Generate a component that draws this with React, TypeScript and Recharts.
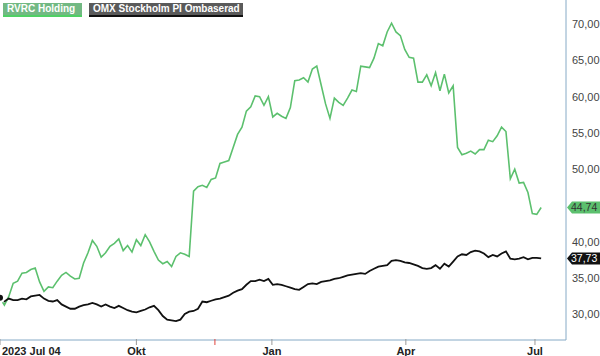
import React from "react";
import { LineChart, Line, XAxis, YAxis, ReferenceLine } from "recharts";

// sampled every 2 trading days from 2023-07-04
const rvrc = [
  32.3, 31.3, 32.5, 34.3, 34.6, 35.7, 35.8, 36.2, 36.4, 34.5,
  33.2, 33.8, 33.7, 34.6, 35.4, 35.8, 35.3, 34.9, 35.0, 37.1,
  38.5, 40.2, 39.4, 37.9, 38.5, 39.4, 39.8, 40.4, 38.8, 39.5,
  38.6, 40.3, 39.5, 41.0, 40.0, 38.7, 37.5, 37.0, 37.3, 36.6,
  38.0, 38.5, 38.3, 38.0, 47.0, 47.6, 47.8, 47.5, 48.6, 48.8,
  50.8, 51.0, 51.2, 53.0, 54.8, 55.8, 58.0, 58.6, 60.1, 60.0,
  58.8, 60.0, 57.2, 57.7, 57.3, 57.0, 58.5, 62.2, 62.3, 62.6,
  62.0, 63.8, 64.2, 61.6, 59.0, 57.0, 59.8, 59.2, 58.8, 59.8,
  60.9, 60.7, 64.2, 64.1, 64.0, 65.3, 67.3, 67.0, 68.9, 70.1,
  68.9, 68.4, 66.5, 65.4, 65.3, 62.0, 62.0, 63.0, 61.5, 63.3,
  60.8, 63.1, 60.5, 61.5, 53.0, 52.0, 52.2, 52.5, 52.1, 52.7,
  52.7, 54.0, 53.8, 54.6, 55.8, 55.2, 48.7, 50.0, 48.1, 48.2,
  46.8, 43.9, 43.8, 44.74,
];

const omx = [
  32.3, 31.8, 32.2, 32.0, 32.0, 32.2, 32.1, 32.5, 32.6, 32.7,
  32.2, 31.9, 31.8, 32.0, 31.4, 31.1, 30.8, 30.8, 31.1, 31.3,
  31.4, 31.6, 31.4, 31.1, 31.4, 31.1, 30.9, 31.2, 30.9, 30.6,
  30.4, 30.3, 30.5, 30.7, 31.0, 31.2, 30.6, 29.8, 29.3, 29.2,
  29.1, 29.3, 30.1, 30.4, 30.5, 30.8, 31.8, 31.7, 31.9, 32.1,
  32.2, 32.4, 32.6, 33.0, 33.3, 33.5, 34.1, 34.6, 34.6, 34.8,
  34.6, 34.9, 34.1, 34.2, 34.1, 33.9, 33.7, 33.5, 33.4, 33.8,
  34.2, 34.3, 34.2, 34.5, 34.6, 34.7, 34.9, 35.0, 35.2, 35.4,
  35.5, 35.6, 35.7, 35.6, 36.0, 36.3, 36.6, 36.7, 36.8, 37.4,
  37.5, 37.4, 37.2, 37.1, 36.9, 36.7, 36.4, 36.3, 36.4, 36.8,
  36.3, 37.0, 36.6, 37.3, 38.0, 38.3, 38.2, 38.6, 38.8, 38.7,
  38.4, 37.9, 38.2, 38.0, 38.4, 38.7, 37.7, 37.6, 37.7, 37.9,
  37.6, 37.8, 37.8, 37.73,
];

const xTickPos = [0, 62, 97.7, 123.6, 184.5, 243.2];
const xTickLabels = ["2023 Jul 04", "Okt", "", "Jan", "Apr", "Jul"];
const yTicks = [30, 35, 40, 50, 55, 60, 65, 70];

const data = rvrc.map((v, k) => ({ i: k * 2, rvrc: v, omx: omx[k] }));

const GREEN = "#5cc06e";
const BORDER = "#86aac6";
const FONT = "Liberation Sans, Arial, sans-serif";
const fmt = (v: number) => v.toFixed(2).replace(".", ",");

function XTick(props: any) {
  const { x, y, payload } = props;
  const idx = xTickPos.indexOf(payload.value);
  const label = xTickLabels[idx];
  const isMarker = label === "";
  const first = idx === 0;
  return (
    <g>
      <line x1={x} x2={x} y1={y - 1} y2={y + 5} stroke={isMarker ? "#e0443c" : "#999"} strokeWidth={1} />
      {!isMarker && (
        <text x={first ? 2 : x} y={y + 15} textAnchor={first ? "start" : "middle"} fontSize={11} fontWeight="bold" fill="#222" fontFamily={FONT}>
          {label}
        </text>
      )}
    </g>
  );
}

function Badge({ viewBox, value, bg, color }: any) {
  const L = viewBox.x + viewBox.width + 1;
  const y = viewBox.y;
  const pts = `${L},${y} ${L + 5},${y - 6} 600,${y - 6} 600,${y + 6} ${L + 5},${y + 6}`;
  return (
    <g>
      <polygon points={pts} fill={bg} />
      <text x={L + 4} y={y + 4} fontSize={10.5} fill={color} fontFamily={FONT}>
        {fmt(value)}
      </text>
    </g>
  );
}

export default function App() {
  const lastR = rvrc[rvrc.length - 1];
  const lastO = omx[omx.length - 1];
  const box = { color: "#fff", fontWeight: "bold" as const, fontSize: 10, lineHeight: "12px", padding: "0 4px", whiteSpace: "nowrap" as const };
  return (
    <div style={{ position: "absolute", left: 0, top: 0, width: 600, height: 356, background: "#fff", fontFamily: FONT }}>
      <LineChart width={600} height={356} data={data} margin={{ top: 0, right: 0, left: 0, bottom: 0 }}>
        <XAxis
          dataKey="i"
          type="number"
          domain={[0, 257.3]}
          ticks={xTickPos}
          interval={0}
          height={16}
          tickSize={0}
          tickMargin={0}
          tickLine={false}
          axisLine={{ stroke: BORDER }}
          tick={<XTick />}
        />
        <YAxis
          orientation="right"
          type="number"
          domain={[26.5, 73.3]}
          ticks={yTicks}
          width={34}
          tickLine={false}
          tickSize={0}
          tickMargin={6}
          axisLine={{ stroke: BORDER }}
          tickFormatter={fmt}
          tick={{ fontSize: 11, fill: "#444", textAnchor: "start", fontFamily: FONT }}
        />
        <Line type="linear" dataKey="rvrc" stroke={GREEN} strokeWidth={1.6} dot={false} isAnimationActive={false} />
        <Line type="linear" dataKey="omx" stroke="#111" strokeWidth={1.8} dot={false} isAnimationActive={false} />
        <ReferenceLine y={lastR} stroke="none" ifOverflow="visible" label={(p: any) => <Badge viewBox={p.viewBox} value={lastR} bg={GREEN} color="#333" />} />
        <ReferenceLine y={lastO} stroke="none" ifOverflow="visible" label={(p: any) => <Badge viewBox={p.viewBox} value={lastO} bg="#111" color="#fff" />} />
      </LineChart>
      <div style={{ position: "absolute", left: 3, top: 3, display: "flex", gap: 7 }}>
        <div style={{ ...box, width: 71, background: "#72b983", borderBottom: "2px solid #4fd064" }}>RVRC Holding</div>
        <div style={{ ...box, width: 146, background: "#5a5a5a", borderBottom: "2px solid #111" }}>OMX Stockholm PI Ombaserad</div>
      </div>
    </div>
  );
}
